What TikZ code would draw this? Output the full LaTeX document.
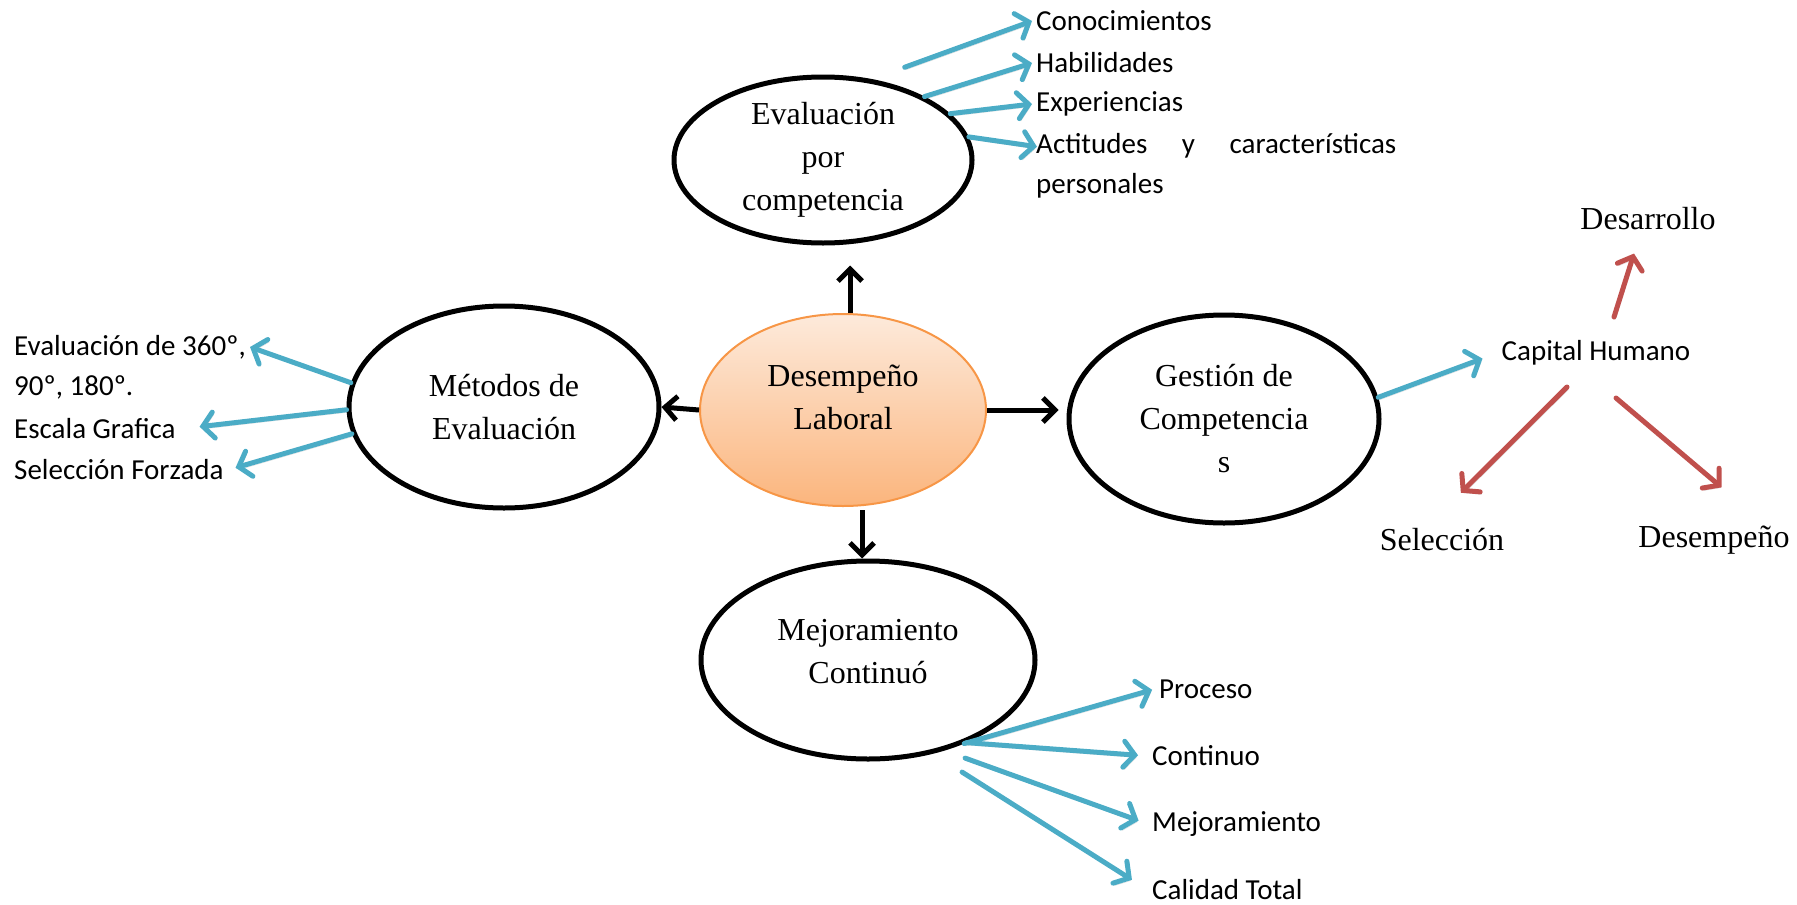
\documentclass[tikz,border=0pt]{standalone}
\usepackage{fontspec}
\setmainfont{Liberation Serif}
\newfontfamily\listfont{Carlito}
\usetikzlibrary{arrows.meta,calc,shapes.geometric}
\definecolor{aqua}{HTML}{4BACC6}
\definecolor{brick}{HTML}{C0504D}
\definecolor{peachtop}{HTML}{FDEADB}
\definecolor{peachbot}{HTML}{FBB57D}
\definecolor{peachline}{HTML}{F79646}

\begin{document}
\begin{tikzpicture}[x=1pt,y=-1pt,
  oval/.style={ellipse, draw=black, line width=5pt, align=center, inner sep=0pt,
    font=\fontsize{32}{43}\selectfont},
  hub/.style={ellipse, draw=peachline, line width=2pt, top color=peachtop, bottom color=peachbot,
    align=center, inner sep=0pt, font=\fontsize{32}{43}\selectfont},
  item/.style={font=\listfont\fontsize{29}{41}\selectfont, inner sep=4pt},
  word/.style={font=\fontsize{32}{43}\selectfont, inner sep=4pt},
  shade/.style={preaction={draw=black, opacity=0.15, transform canvas={shift={(1.5pt,-2.5pt)}}}},
  blueline/.style={shade, draw=aqua, line width=5pt, line cap=round,
    -{Straight Barb[length=11pt,width=26pt,line cap=round]}},
  redline/.style={shade, draw=brick, line width=5pt, line cap=round,
    -{Straight Barb[length=11pt,width=26pt,line cap=round]}},
  blackline/.style={draw=black, line width=5pt,
    -{Straight Barb[length=12pt,width=24pt]}},
]
\useasboundingbox (0,0) rectangle (1797,905);

% central hub and the four branches
\node[hub, minimum width=286pt, minimum height=192pt, label={[align=center, font=\fontsize{32}{43}\selectfont, yshift=13pt]center:Desempeño\\Laboral}] (dl) at (843,410) {};
\node[oval, minimum width=298pt, minimum height=166pt] (ev) at (823,160) {Evaluación\\por\\competencia};
\node[oval, minimum width=310pt, minimum height=202pt] (me) at (504,407) {Métodos de\\Evaluación};
\node[oval, minimum width=310pt, minimum height=208pt] (ge) at (1224,419) {Gestión de\\Competencia\\s};
\node[oval, minimum width=334pt, minimum height=198pt, label={[align=center, font=\fontsize{32}{43}\selectfont, yshift=8pt]center:Mejoramiento\\Continuó}] (mc) at (868,660) {};

\draw[blackline, shorten >=20pt] ($(dl.north)+(7,0)$) -- ($(dl.north |- ev.south)+(7,0)$);
\draw[blackline] (dl.west) -- (me.east);
\draw[blackline, shorten >=8pt] (dl.east) -- (dl.east -| ge.west);
\draw[blackline, shorten <=3pt] ($(mc.north |- dl.south)+(-6,0)$) -- ($(mc.north)+(-6,0)$);

% competences list
\node[item, anchor=west] (t1) at (1032,21) {Conocimientos};
\node[item, anchor=west] (t2) at (1032,63) {Habilidades};
\node[item, anchor=west] (t3) at (1032,104) {Experiencias};
\node[item, anchor=west] (t4) at (1032,146) {\makebox[360pt][s]{Actitudes y características}};
\node[item, anchor=west] (t5) at (1032,186) {personales};

\draw[blueline] ($(ev.49)+(15,-16)$) -- (t1.west);
\draw[blueline] (ev.32) -- (t2.west);
\draw[blueline] (ev.20) -- (t3.west);
\draw[blueline, shorten >=-5pt] (ev.9) -- (t4.west);

% evaluation methods
\node[item, anchor=west] (l1) at (10,347) {Evaluación de 360º,};
\node[item, anchor=west] (l2) at (10,387) {90º, 180º.};
\node[item, anchor=west] (l3) at (10,429) {Escala Grafica};
\node[item, anchor=west] (l4) at (10,470) {Selección Forzada};

\draw[blueline] (me.171) -- (l1.east);
\draw[blueline, shorten >=20pt] (me.181) -- (l3.east);
\draw[blueline, shorten >=8pt] (me.190) -- (l4.east);

% human capital
\node[item] (ch) at (1596,353) {Capital Humano};
\node[word] (dsr) at (1648,219) {Desarrollo};
\node[word] (sel) at (1442,540) {Selección};
\node[word] (dsp) at (1714,540) {Desempeño};

\draw[blueline, shorten >=16pt] (ge.8) -- (ch.west);
\coordinate (chup) at (1614,317);
\coordinate (chleft) at (1567,387);
\coordinate (chright) at (1616,398);
\draw[redline, shorten >=20pt] (chup) -- ($(dsr.south)+(-8,0)$);
\draw[redline, shorten >=45pt] (chleft) -- ($(sel.north)+(-13,0)$);
\draw[redline, shorten >=53pt] (chright) -- ($(dsp.north)+(48,0)$);

% continuous improvement
\node[item, anchor=west] (p1) at (1155,689) {Proceso};
\node[item, anchor=west] (p2) at (1148,756) {Continuo};
\node[item, anchor=west] (p3) at (1148,824) {Mejoramiento};
\node[item, anchor=west] (p4) at (1148,890) {Calidad Total};

\draw[blueline, shorten >=3pt] (mc.-41) -- (p1.west);
\draw[blueline, shorten >=10pt] (mc.-40) -- (p2.west);
\draw[blueline, shorten >=10pt] ($(mc.-45)+(10,11)$) -- (p3.west);
\draw[blueline, shorten >=19pt] ($(mc.-45)+(7,25)$) -- (p4.west);
\end{tikzpicture}
\end{document}
